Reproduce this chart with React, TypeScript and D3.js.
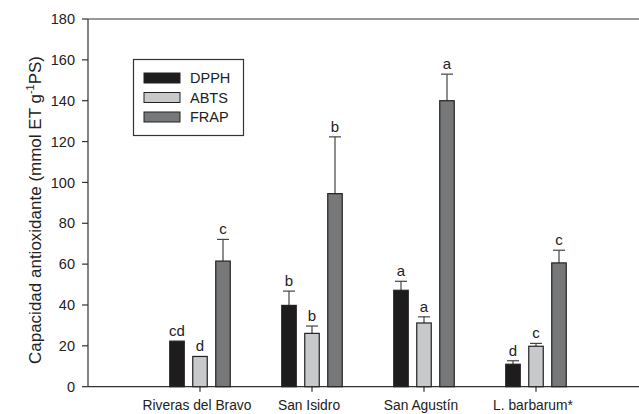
import React from "react";
import * as d3 from "d3";

const categories = ["Riveras del Bravo", "San Isidro", "San Agustín", "L. barbarum*"];
const seriesNames = ["DPPH", "ABTS", "FRAP"];
const dpph = [22.3, 39.8, 47.2, 11.0];
const dpphErr = [22.3, 46.8, 51.6, 12.7];
const dpphLbl = ["cd", "b", "a", "d"];
const abts = [14.8, 26.1, 31.2, 19.8];
const abtsErr = [14.8, 29.7, 34.2, 21.2];
const abtsLbl = ["d", "b", "a", "c"];
const frap = [61.5, 94.5, 140.0, 60.6];
const frapErr = [72.1, 122.3, 153.0, 66.8];
const frapLbl = ["c", "b", "a", "c"];
const yTicks = [0, 20, 40, 60, 80, 100, 120, 140, 160, 180];
const colors = ["#1e1c1d", "#c8c9ca", "#77787a"];

export default function App() {
  const W = 639, H = 414;
  const left = 88, top = 19, bottom = 386.7;
  const x = d3.scaleLinear().domain([0, 5]).range([left, left + 560]);
  const y = d3.scaleLinear().domain([0, 180]).range([bottom, top]);
  const bw = 14.5;
  const offs = [-23, 0, 23];
  const vals = [dpph, abts, frap];
  const errs = [dpphErr, abtsErr, frapErr];
  const lbls = [dpphLbl, abtsLbl, frapLbl];
  const font = "Arial, 'Liberation Sans', sans-serif";
  const axisColor = "#333";

  return (
    <svg width={W} height={H} style={{ position: "absolute", left: 0, top: 0, background: "#fff" }} fontFamily={font}>
      {/* axes */}
      <line x1={left} y1={top} x2={W} y2={top} stroke={axisColor} strokeWidth={1.2} />
      <line x1={left} y1={top} x2={left} y2={bottom} stroke={axisColor} strokeWidth={1.2} />
      <line x1={left} y1={bottom} x2={W} y2={bottom} stroke={axisColor} strokeWidth={1.2} />
      {yTicks.map((t) => (
        <g key={t}>
          <line x1={left - 6} x2={left} y1={y(t)} y2={y(t)} stroke={axisColor} strokeWidth={1.2} />
          <text x={left - 13} y={y(t)} dy="0.36em" textAnchor="end" fontSize={14.5} fill="#222">{t}</text>
        </g>
      ))}
      {categories.map((c, i) => (
        <g key={c}>
          <line x1={x(i + 1)} x2={x(i + 1)} y1={bottom} y2={bottom + 5} stroke={axisColor} strokeWidth={1.2} />
          <text x={x(i + 1) - 3} y={410} textAnchor="middle" fontSize={13.8} fill="#222">{c}</text>
        </g>
      ))}
      <text
        transform={`translate(41,210) rotate(-90)`}
        textAnchor="middle"
        fontSize={17}
        fill="#222"
      >
        Capacidad antioxidante (mmol ET g<tspan fontSize={11} dy={-7}>-1</tspan><tspan dy={7}>PS)</tspan>
      </text>
      {/* bars */}
      {categories.map((c, i) =>
        vals.map((v, s) => {
          const cx = x(i + 1) + offs[s];
          const e = errs[s][i];
          return (
            <g key={c + s}>
              {e > v[i] + 0.3 && (
                <g stroke="#444" strokeWidth={1.2}>
                  <line x1={cx} x2={cx} y1={y(v[i])} y2={y(e)} />
                  <line x1={cx - 6} x2={cx + 6} y1={y(e)} y2={y(e)} />
                </g>
              )}
              <rect x={cx - bw / 2} y={y(v[i])} width={bw} height={bottom - y(v[i])} fill={colors[s]} stroke="#222" strokeWidth={1.2} />
              <text x={cx} y={y(Math.max(e, v[i])) - 5} textAnchor="middle" fontSize={15} fill="#222">{lbls[s][i]}</text>
            </g>
          );
        })
      )}
      {/* legend */}
      <rect x={133.5} y={59.5} width={110} height={76} fill="#fff" stroke="#333" strokeWidth={1.2} />
      {seriesNames.map((n, s) => (
        <g key={n}>
          <rect x={144} y={73 + s * 19.5} width={36} height={10} fill={colors[s]} stroke="#222" strokeWidth={1} />
          <text x={190} y={78 + s * 19.5} dy="0.36em" fontSize={14.5} fill="#222">{n}</text>
        </g>
      ))}
    </svg>
  );
}
